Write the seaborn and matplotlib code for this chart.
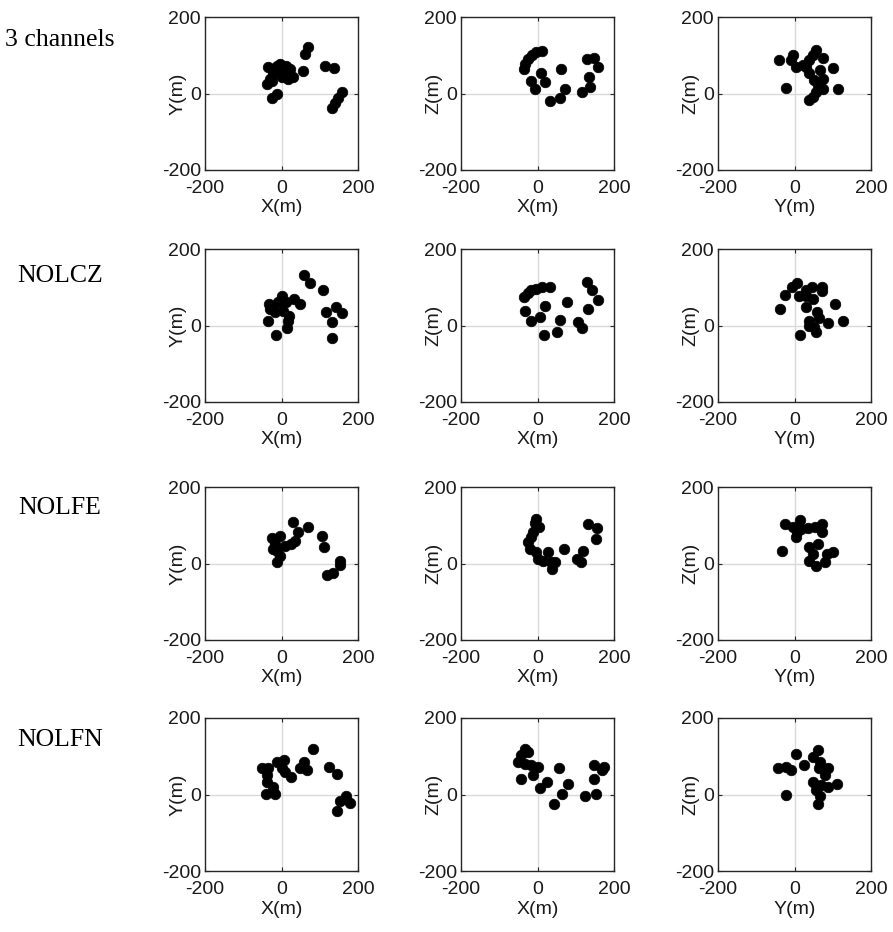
import matplotlib
matplotlib.use("Agg")
import matplotlib.pyplot as plt
import seaborn as sns
import pandas as pd

sns.set_theme(style="white")
plt.rcParams['font.family'] = ['Liberation Sans', 'DejaVu Sans']

row_labels = ["3 channels", "NOLCZ", "NOLFE", "NOLFN"]
col_axes = [("X(m)", "Y(m)"), ("X(m)", "Z(m)"), ("Y(m)", "Z(m)")]
ticks = [-200, 0, 200]

# ---- Row 1: 3 channels ----
r1_xy_x = [68, 61, 114, 136, 57, 31, -35, -26, -13, -4, 4, 13, 22, -22, -9, 9, 0, 18, -31, -39, -26, -26, -13, 158, 149, 140, 132]
r1_xy_y = [121, 104, 73, 66, 60, 42, 68, 64, 73, 77, 68, 73, 64, 51, 55, 51, 42, 38, 38, 25, 33, -11, -2, 3, -11, -24, -37]
r1_xz_x = [11, -3, -14, -25, -32, -35, 9, 19, -16, -7, 61, 72, 59, 32, 129, 149, 158, 135, 136, 116]
r1_xz_z = [112, 108, 101, 90, 77, 64, 54, 31, 33, 11, 64, 13, -11, -19, 89, 92, 68, 42, 16, 3]
r1_yz_y = [-41, -22, -4, -9, 3, 57, 48, 38, 75, 31, 66, 101, 39, 50, 75, 61, 75, 57, 48, 39, 114, 22]
r1_yz_z = [88, 15, 101, 88, 70, 114, 101, 88, 92, 70, 61, 66, 53, 35, 39, 22, 13, 4, -9, -18, 13, 75]

# ---- Row 2: NOLCZ ----
r2_xy_x = [59, 75, 108, -32, -22, 0, -9, 13, 32, 48, -31, -18, -35, 4, 20, 18, 15, -15, 117, 143, 158, 132, 132]
r2_xy_y = [132, 110, 92, 57, 48, 77, 61, 61, 70, 57, 44, 35, 13, 39, 26, 13, -7, -25, 35, 48, 32, 9, -33]
r2_xz_x = [-35, -26, -16, -3, 11, 32, 19, -33, -16, 6, 76, 59, 50, 18, 129, 142, 158, 132, 107, 116]
r2_xz_z = [75, 84, 92, 96, 101, 101, 51, 37, 11, 22, 61, 15, -16, -25, 114, 92, 66, 44, 9, -7]
r2_yz_y = [6, -6, -24, -38, 31, 46, 73, 73, 13, 31, 48, 31, 105, 59, 64, 39, 50, 39, 55, 15, 88, 127]
r2_yz_z = [110, 101, 79, 44, 92, 101, 101, 89, 76, 76, 70, 48, 57, 35, 19, 11, -4, 0, -16, -25, 7, 11]

# ---- Row 3: NOLFE ----
r3_xy_x = [29, 70, 44, 105, 111, -26, -4, -18, 9, 26, 35, -22, -4, -11, -13, 154, 152, 134, 120]
r3_xy_y = [108, 95, 82, 73, 42, 66, 73, 51, 46, 51, 60, 38, 20, 4, 33, 7, -4, -24, -31]
r3_xz_x = [-3, -7, 4, -11, -18, -26, -20, -3, 2, 15, 28, 35, 46, 37, 70, 120, 103, 114, 133, 155, 153]
r3_xz_z = [117, 106, 95, 82, 68, 55, 39, 29, 11, 7, 29, 3, 4, -15, 39, 33, 13, 3, 104, 92, 64]
r3_yz_y = [-24, -4, 15, 6, 3, 18, 35, 53, 73, 73, -32, 39, 61, 48, 39, 57, 79, 85, 101]
r3_yz_z = [104, 95, 114, 83, 68, 89, 92, 95, 104, 82, 33, 42, 51, 25, 7, -6, 4, 25, 31]

# ---- Row 4: NOLFN ----
r4_xy_x = [82, 59, 66, 48, 24, 9, -13, 6, 0, -50, -35, -39, -39, -22, -41, -18, 125, 146, 169, 180, 152, 145]
r4_xy_y = [118, 85, 63, 68, 47, 59, 85, 89, 68, 68, 68, 50, 32, 19, 2, 2, 72, 53, -3, -23, -16, -42]
r4_xz_x = [-33, -25, -42, -51, -33, -18, 2, -11, -42, 6, 24, 57, 79, 65, 44, 149, 175, 168, 149, 125, 153]
r4_xz_z = [118, 111, 103, 85, 81, 76, 72, 50, 41, 18, 32, 68, 28, 2, -25, 76, 72, 63, 41, -3, 2]
r4_yz_y = [3, 24, -9, -22, -44, 61, 48, 66, 64, 88, 79, 48, 70, 88, 111, 57, 66, 61, -22]
r4_yz_z = [105, 76, 63, 72, 70, 116, 98, 85, 68, 68, 50, 32, 26, 19, 28, 11, -3, -25, 0]

rows = [
    [(r1_xy_x, r1_xy_y), (r1_xz_x, r1_xz_z), (r1_yz_y, r1_yz_z)],
    [(r2_xy_x, r2_xy_y), (r2_xz_x, r2_xz_z), (r2_yz_y, r2_yz_z)],
    [(r3_xy_x, r3_xy_y), (r3_xz_x, r3_xz_z), (r3_yz_y, r3_yz_z)],
    [(r4_xy_x, r4_xy_y), (r4_xz_x, r4_xz_z), (r4_yz_y, r4_yz_z)],
]

W, H = 893, 932
fig = plt.figure(figsize=(W / 100, H / 100), dpi=100)
fig.patch.set_facecolor("white")

col_left_px = [205, 461, 718]
row_top_px = [17, 249, 487, 718]
ax_w_px, ax_h_px = 153, 153
row_label_y_px = [40, 276, 508, 740]
FS = 14

for ri, panels in enumerate(rows):
    for ci, (a, b) in enumerate(panels):
        left = col_left_px[ci] / W
        bottom = 1 - (row_top_px[ri] + ax_h_px) / H
        ax = fig.add_axes([left, bottom, ax_w_px / W, ax_h_px / H])
        df = pd.DataFrame({"a": a, "b": b})
        ax.axhline(0, color="#d9d9d9", lw=1.0, zorder=0)
        ax.axvline(0, color="#d9d9d9", lw=1.0, zorder=0)
        sns.scatterplot(data=df, x="a", y="b", ax=ax, color="black",
                        s=58, edgecolor="black", linewidth=0.5, zorder=3)
        ax.set_xlim(-200, 200)
        ax.set_ylim(-200, 200)
        ax.set_xticks(ticks)
        ax.set_yticks(ticks)
        ax.set_xticklabels([str(t) for t in ticks])
        ax.set_yticklabels([str(t) for t in ticks])
        ax.tick_params(direction="in", length=3, width=0.8, colors="#262626",
                       labelsize=FS, labelcolor="#1a1a1a",
                       bottom=True, left=True, top=True, right=True)
        ax.tick_params(axis="x", pad=7)
        ax.tick_params(axis="y", pad=3)
        ax.set_xlabel(col_axes[ci][0], fontsize=FS, color="#1a1a1a")
        ax.set_ylabel(col_axes[ci][1], fontsize=FS, color="#1a1a1a")
        ax.xaxis.set_label_coords(0.5, -38 / ax_h_px, transform=ax.transAxes)
        ax.yaxis.set_label_coords(-27 / ax_w_px, 0.5, transform=ax.transAxes)
        ax.xaxis.label.set_va("center")
        ax.yaxis.label.set_va("center")
        for sp in ax.spines.values():
            sp.set_color("#262626")
            sp.set_linewidth(1.0)
            sp.set_visible(True)
        ax.grid(False)
    fig.text(60 / W, 1 - row_label_y_px[ri] / H, row_labels[ri],
             fontsize=18.5, family=["Liberation Serif", "DejaVu Serif"],
             ha="center", va="center", color="black")

fig.savefig("out.png", dpi=100, facecolor="white")
